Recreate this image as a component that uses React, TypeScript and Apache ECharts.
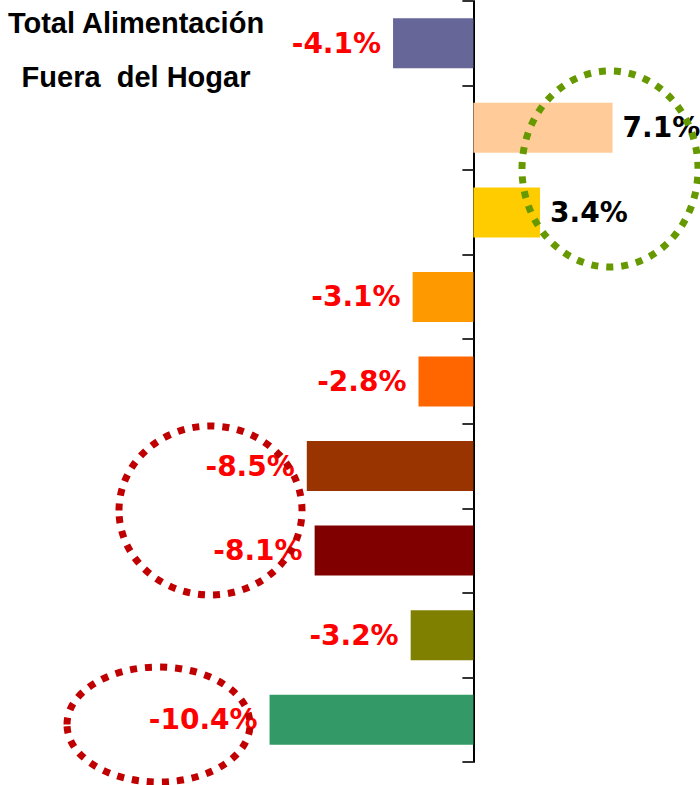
import React, { useEffect, useRef } from "react";
import * as echarts from "echarts";

const categories = ["c1", "c2", "c3", "c4", "c5", "c6", "c7", "c8", "c9"];
const values = [-4.1, 7.1, 3.4, -3.1, -2.8, -8.5, -8.1, -3.2, -10.4];
const colors = ["#666699", "#FFCC99", "#FFCC00", "#FF9900", "#FF6600", "#993300", "#800000", "#808000", "#339966"];
const titleLines = ["Total Alimentación", "Fuera  del Hogar"];

export default function App() {
  const ref = useRef<HTMLDivElement>(null);
  useEffect(() => {
    if (!ref.current) return;
    const chart = echarts.init(ref.current, null, { renderer: "svg" });
    const data = values.map((v, i) => ({
      value: v,
      itemStyle: { color: colors[i] },
      label: {
        show: true,
        position: v < 0 ? "left" : "right",
        distance: v < 0 ? 12 : 10,
        color: v < 0 ? "#FF0000" : "#000000",
        fontFamily: "DejaVu Sans",
        fontWeight: "bold",
        fontSize: 28,
        formatter: (p: any) => p.value.toFixed(1) + "%",
      },
    }));
    const dotted = (cx: number, cy: number, rx: number, ry: number, color: string) => ({
      type: "ellipse",
      z: 100,
      shape: { cx, cy, rx, ry },
      style: { fill: "none", stroke: color, lineWidth: 7, lineDash: [7, 8] },
    });
    chart.setOption({
      animation: false,
      title: {
        text: titleLines.join("\n"),
        left: 136,
        top: -4,
        padding: 0,
        textAlign: "center",
        textStyle: {
          fontFamily: "Liberation Sans",
          fontWeight: "bold",
          fontSize: 29,
          lineHeight: 54,
          color: "#000",
        },
      },
      grid: { left: 3, width: 686, top: 1, bottom: 23, containLabel: false },
      xAxis: {
        type: "value",
        min: -24,
        max: 11,
        show: false,
        splitLine: { show: false },
      },
      yAxis: {
        type: "category",
        data: categories,
        inverse: true,
        axisLine: { show: true, onZero: true, lineStyle: { color: "#000", width: 2 } },
        axisTick: { show: true, length: 11, lineStyle: { color: "#333", width: 2 } },
        axisLabel: { show: false },
        splitLine: { show: false },
      },
      series: [
        {
          type: "bar",
          data,
          barWidth: 50,
        },
      ],
      graphic: [
        dotted(610, 169, 88, 98, "#669900"),
        dotted(210.5, 510.5, 91.5, 84.5, "#C00000"),
        dotted(158.5, 724.5, 91.5, 57.5, "#C00000"),
      ],
    });
    return () => chart.dispose();
  }, []);
  return (
    <div
      ref={ref}
      style={{ position: "absolute", left: 0, top: 0, width: 700, height: 785, background: "#fff" }}
    />
  );
}
